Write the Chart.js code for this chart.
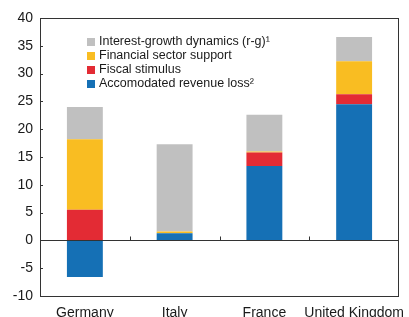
<!DOCTYPE html>
<html>
<head>
<meta charset="utf-8">
<script src="https://cdn.jsdelivr.net/npm/chart.js@4/dist/chart.umd.min.js"></script>
<style>
  html, body { margin: 0; padding: 0; background: #fff; }
  #wrap { position: relative; width: 409px; height: 317px; overflow: hidden; }
  canvas { position: absolute; left: 0; top: 0; }
  #legend { position: absolute; left: 87px; top: 35px; font-family: "Liberation Sans", Arial, sans-serif; font-size: 12.5px; color: #1a1a1a; line-height: 13.9px; }
  #legend div { display: flex; align-items: center; white-space: nowrap; }
  #legend span.box { display: inline-block; width: 8px; height: 8px; margin-right: 4px; }
</style>
</head>
<body>
<div id="wrap">
  <canvas id="c" width="409" height="317"></canvas>
  <div id="legend"></div>
</div>
<script>
const categories = ["Germany", "Italy", "France", "United Kingdom"];
const revenueLoss = [-6.6, 1.3, 13.4, 24.5];
const fiscalStimulus = [5.5, 0.0, 2.4, 1.8];
const financialSupport = [12.7, 0.3, 0.2, 5.9];
const interestGrowth = [5.8, 15.7, 6.6, 4.4];
const yTicks = [-10, -5, 0, 5, 10, 15, 20, 25, 30, 35, 40];

const seriesNames = ["Accomodated revenue loss", "Fiscal stimulus", "Financial sector support", "Interest-growth dynamics (r-g)"];
const seriesSup = ["²", "", "", "¹"];
const seriesColors = ["#1570b5", "#e32b34", "#f9bd22", "#c0c0c0"];
const seriesData = [revenueLoss, fiscalStimulus, financialSupport, interestGrowth];

const leg = document.getElementById('legend');
for (let i = seriesNames.length - 1; i >= 0; i--) {
  const d = document.createElement('div');
  const b = document.createElement('span');
  b.className = 'box';
  b.style.background = seriesColors[i];
  d.appendChild(b);
  d.appendChild(document.createTextNode(seriesNames[i] + seriesSup[i]));
  leg.appendChild(d);
}

const frameColor = '#333';
const framePlugin = {
  id: 'frame',
  afterDatasetsDraw(chart) {
    const { ctx, chartArea: a, scales: { x, y } } = chart;
    ctx.save();
    ctx.strokeStyle = frameColor;
    ctx.lineWidth = 1;
    ctx.strokeRect(Math.round(a.left) + 0.5, Math.round(a.top) + 0.5, Math.round(a.right - a.left) - 1, Math.round(a.bottom - a.top));
    const y0 = Math.round(y.getPixelForValue(0)) + 0.5;
    ctx.beginPath();
    ctx.moveTo(a.left, y0); ctx.lineTo(a.right, y0);
    ctx.stroke();
    ctx.beginPath();
    yTicks.forEach(v => {
      const py = Math.round(y.getPixelForValue(v)) + 0.5;
      ctx.moveTo(a.left, py); ctx.lineTo(a.left + 3, py);
    });
    for (let i = 0; i < categories.length - 1; i++) {
      const px = Math.round(x.getPixelForValue(i + 0.5)) + 0.5;
      ctx.moveTo(px, y0); ctx.lineTo(px, y0 - 4);
    }
    ctx.stroke();
    ctx.restore();
  }
};

new Chart(document.getElementById('c'), {
  type: 'bar',
  data: {
    labels: categories,
    datasets: seriesData.map((d, i) => ({
      label: seriesNames[i],
      data: d,
      backgroundColor: seriesColors[i],
      borderWidth: 0,
      barPercentage: 0.4,
      categoryPercentage: 1.0
    }))
  },
  options: {
    responsive: false,
    animation: false,
    devicePixelRatio: 1,
    layout: { padding: { top: 18, right: 10, left: 0, bottom: 0 } },
    plugins: { legend: { display: false }, tooltip: { enabled: false } },
    scales: {
      x: {
        stacked: true,
        grid: { display: false, drawTicks: false },
        border: { display: false },
        ticks: { color: '#1a1a1a', font: { family: "'Liberation Sans', Arial, sans-serif", size: 14 }, padding: 9, maxRotation: 0, autoSkip: false },
        afterFit(s) { s.height = 21; s.paddingLeft = 0; s.paddingRight = 0; }
      },
      y: {
        stacked: true,
        min: -10, max: 40,
        grid: { display: false, drawTicks: false },
        border: { display: false },
        ticks: { stepSize: 5, color: '#1a1a1a', font: { family: "'Liberation Sans', Arial, sans-serif", size: 14 }, padding: 7 },
        afterFit(s) { s.width = 40; s.paddingTop = 0; s.paddingBottom = 0; }
      }
    }
  },
  plugins: [framePlugin]
});
</script>
</body>
</html>
